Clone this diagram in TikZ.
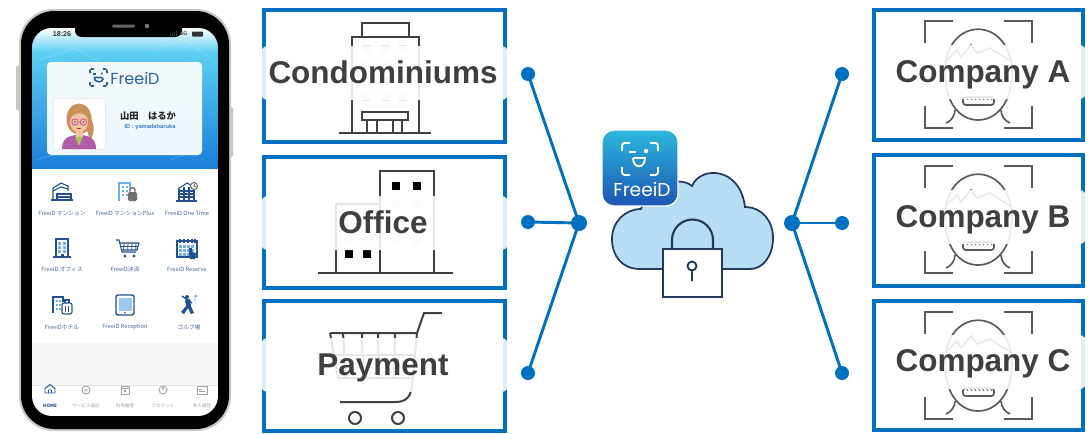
\documentclass[tikz,border=0pt]{standalone}
\usepackage{fontspec}
\setmainfont{Liberation Sans}
\newfontfamily\jpfont{Noto Sans CJK JP}
\newfontfamily\logofont{Poppins}
\usetikzlibrary{calc}

\definecolor{boxblue}{HTML}{0070C0}
\definecolor{textgray}{HTML}{3F3F3F}
\definecolor{icongray}{HTML}{404040}
\definecolor{facegray}{HTML}{5A5A5A}
\definecolor{winfill}{HTML}{E4E4E4}
\definecolor{cloudfill}{HTML}{B6DDF4}
\definecolor{cloudline}{HTML}{22395C}
\definecolor{apptop}{HTML}{2BB9DC}
\definecolor{appbot}{HTML}{1E55B3}
\definecolor{hdrtop}{HTML}{5CCFF3}
\definecolor{hdrbot}{HTML}{1B7ED9}
\definecolor{phonegray}{HTML}{C8C8C8}
\definecolor{appnavy}{HTML}{24508F}
\definecolor{applight}{HTML}{6FB0E8}
\definecolor{appgray}{HTML}{6E6E6E}
\definecolor{lbl}{HTML}{4A6892}
\definecolor{navgray}{HTML}{A5A5A5}
\definecolor{logoblue}{HTML}{2B5FA5}
\definecolor{idblue}{HTML}{3A7BD5}
\definecolor{hairbrown}{HTML}{C8915A}
\definecolor{skin}{HTML}{F2C6A0}
\definecolor{topurple}{HTML}{B15CA9}
\definecolor{shirtgreen}{HTML}{A6C94A}
\definecolor{glasspink}{HTML}{D9559B}

% corner brackets, head outline and mouth of the face-recognition mark
\newcommand\facemark[1]{%
\begin{scope}[shift={(0,#1)}]
  \draw[facestroke] (925,43) -- (925,21) -- (953,21);
  \draw[facestroke] (1004,21) -- (1032,21) -- (1032,43);
  \draw[facestroke] (925,106) -- (925,128) -- (953,128);
  \draw[facestroke] (1004,128) -- (1032,128) -- (1032,106);
  \draw[facestroke] (945,75) .. controls (943,14) and (1013,14) .. (1012,75)
        .. controls (1011,105) and (995,120) .. (978,120)
        .. controls (961,120) and (946,105) .. (945,75);
  \draw[facestroke] (955,110) .. controls (955,116) and (951,121) .. (946,123);
  \draw[facestroke] (1001,110) .. controls (1001,116) and (1005,121) .. (1010,123);
  \draw[facestroke] (945,62) -- (957,50) -- (961,57) -- (971,45) -- (977,53) -- (990,48) -- (1012,62);
  \draw[facestroke, rounded corners=2pt] (963,97) rectangle (994,105);
  \foreach \k in {966,970,...,990} \draw[facegray, line width=0.6pt] (\k,97) -- (\k+2,100);
\end{scope}}

\begin{document}
\begin{tikzpicture}[x=0.75pt,y=-0.75pt,
  panel/.style={draw=boxblue, line width=2.6pt, fill=white, inner sep=0},
  veil/.style={fill=white, fill opacity=0.88, rounded corners=5pt},
  tag/.style={font=\fontsize{23.6}{28}\selectfont\bfseries, text=textgray, inner sep=0, anchor=base},
  glyph/.style={draw=icongray, line width=1.5pt},
  facestroke/.style={draw=facegray, line width=1.25pt},
  dot/.style={circle, fill=boxblue, inner sep=0, minimum size=10.5pt},
  hub/.style={dot, minimum size=12pt},
  link/.style={draw=boxblue, line width=2.2pt},
  tiny/.style={font=\jpfont\fontsize{4.3}{5}\selectfont, text=lbl, inner sep=0},
  navtxt/.style={font=\jpfont\fontsize{3.4}{4}\selectfont, text=navgray, inner sep=0},
  ico/.style={line width=0.8pt},
]
\useasboundingbox (0,0) rectangle (1089,433);
\fill[white] (0,0) rectangle (1089,433);

% ================= phone =================
\fill[phonegray, rounded corners=1pt] (16,66) rectangle (21,110);
\fill[phonegray, rounded corners=1pt] (229,107) rectangle (233,157);
\fill[phonegray, rounded corners=26pt] (19,9) rectangle (231,431);
\fill[black, rounded corners=25pt] (21,11) rectangle (229,429);
\begin{scope}
  \clip[rounded corners=15pt] (32,28) rectangle (218,416);
  \fill[white] (32,28) rectangle (218,416);
  \fill[top color=white, bottom color=hdrtop] (32,28) rectangle (218,52);
  \fill[top color=hdrtop, bottom color=hdrbot] (32,52) rectangle (218,168);
  \foreach \a/\b/\c/\d in {40/60/75/48, 75/48/100/62, 150/50/185/40, 185/40/210/58, 36/160/70/150, 170/160/205/148}
    \draw[white, opacity=0.25, line width=0.4pt] (\a,\b) -- (\c,\d);
  \fill[black!3] (32,343) rectangle (218,385);
  \draw[black!10, line width=0.4pt] (32,385) -- (218,385);
\end{scope}
% notch, speaker and camera
\fill[black, rounded corners=5pt] (75,20) rectangle (182,37);
\fill[black!60, rounded corners=1pt] (112,24.5) rectangle (135,27.5);
\fill[black!55] (147,26) circle[radius=2.3];
% status bar
\node[font=\bfseries\fontsize{5.3}{6}\selectfont, text=black!80, inner sep=0] (clock) at (62,34) {18:26};
\foreach \h [count=\i] in {2,3,4,5} \fill[black!80] (168+\i*2,36) rectangle (169.3+\i*2,36-\h);
\node[font=\bfseries\fontsize{4}{5}\selectfont, text=black!70, inner sep=0] (net) at (184,34) {5G};
\fill[black!80, rounded corners=0.6pt] (192,31.5) rectangle (203,36.5);

% ID card
\fill[white, opacity=0.93, rounded corners=3pt] (47,62) rectangle (202,155);
\begin{scope}[logoblue, line width=1.2pt, rounded corners=1.2pt]
  \draw (90,73) -- (90,69) -- (94,69);  \draw (103,69) -- (107,69) -- (107,73);
  \draw (90,82) -- (90,86) -- (94,86);  \draw (103,86) -- (107,86) -- (107,82);
  \draw (93,74) -- (96,74); \fill (102,73.5) circle[radius=1.1];
  \draw (94,77.5) -- (103,77.5) .. controls (103,83) and (94,83) .. (94,77.5);
\end{scope}
\node[font=\logofont\fontsize{12}{14}\selectfont, text=logoblue, inner sep=0] (cardlogo) at (135,78) {FreeiD};
\fill[white] (53,98) rectangle (105,149);
\draw[black!8, line width=0.3pt] (53,98) rectangle (105,149);
% avatar
\fill[hairbrown] (79,119) ellipse[x radius=12.5, y radius=15.5];
\fill[hairbrown] (86,112) .. controls (96,122) and (95,134) .. (90,140) -- (86,127) -- cycle;
\fill[topurple] (62,149) .. controls (62,139) and (68,135) .. (79,135) .. controls (90,135) and (96,139) .. (96,149) -- cycle;
\fill[shirtgreen] (75,136) -- (83,136) -- (79,146) -- cycle;
\fill[skin] (75.5,127) rectangle (82.5,137);
\fill[skin] (79,122) ellipse[x radius=9, y radius=10.5];
\fill[hairbrown] (69.5,119) .. controls (69,105) and (89,105) .. (88.5,119) .. controls (85,112) and (75,111) .. (69.5,119) -- cycle;
\draw[glasspink, line width=0.7pt] (75,122) circle[radius=3.2] (83.5,122) circle[radius=3.2] (78.2,122) -- (80.3,122);
\fill[black!70] (75,122) circle[radius=0.8] (83.5,122) circle[radius=0.8];
\draw[red!60!black, line width=0.4pt] (77,128) .. controls (78,129) and (80,129) .. (81,128);
\node[font=\jpfont\bfseries\fontsize{7}{8}\selectfont, text=black!85, inner sep=0] (uname) at (148,116) {山田　はるか};
\node[font=\bfseries\fontsize{4.3}{5}\selectfont, text=idblue, inner sep=0] (uid) at (150,127) {ID : yamadaharuka};

% service icons, row 1
\begin{scope}[shift={(62,192)}, ico, appnavy]
  \draw (-9,8) -- (-9,-4) -- (-1,-9) -- (6,-6) -- (6,-1);
  \draw (-9,-1) -- (-1,-5) -- (6,-3);
  \draw (-5,8) -- (-5,2) -- (9,2) -- (9,8) (-5,5) -- (9,5) (-11,8) -- (11,8);
\end{scope}
\begin{scope}[shift={(128,192)}, ico]
  \draw[applight] (-9,9) -- (-9,-9) -- (2,-9) -- (2,-2);
  \foreach \u in {-6,-2} \foreach \v in {-6,-2,2} \fill[applight] (\u,\v) rectangle (\u+2,\v+2);
  \fill[appgray, rounded corners=1pt] (0,0) rectangle (9,9);
  \draw[appgray, line width=1pt] (2,0) -- (2,-2) arc[start angle=180, end angle=360, radius=2.5] -- (7,0);
\end{scope}
\begin{scope}[shift={(187,192)}, ico, appnavy]
  \draw (-9,-3) -- (0,-9) -- (7,-5);
  \draw (-8,9) -- (-8,-3) (7,9) -- (7,-3) (-11,9) -- (10,9);
  \foreach \v in {-1,2,5} \draw (-8,\v) -- (7,\v);
  \draw (-3,-5) -- (-3,9) (2,-5) -- (2,9);
  \fill[white] (7,-6) circle[radius=4]; \draw[appgray] (7,-6) circle[radius=3.5];
  \draw[appgray, line width=0.5pt] (7,-8) -- (7,-6) -- (9,-6);
\end{scope}
% service icons, row 2
\begin{scope}[shift={(62,248)}, ico, appnavy]
  \draw (-6,9) -- (-6,-9) -- (6,-9) -- (6,9) (-9,9) -- (9,9);
  \foreach \u in {-4,1} \foreach \v in {-6,-2,2} \fill[applight] (\u,\v) rectangle (\u+3,\v+2.5);
  \fill (-1.5,5.5) rectangle (1.5,9);
\end{scope}
\begin{scope}[shift={(128,248)}, ico, appnavy]
  \draw (-12,-8) -- (-9,-8) -- (-6,4) -- (8,4);
  \draw (-8.5,-5) -- (11,-5) -- (9,2) -- (-6.5,2);
  \foreach \u in {-4,0,4,8} \draw[line width=0.6pt] (\u,-5) -- (\u-0.3,2);
  \draw (-8,-1.5) -- (10,-1.5);
  \fill (-3,8) circle[radius=1.6] (6,8) circle[radius=1.6];
\end{scope}
\begin{scope}[shift={(187,248)}, ico, appnavy]
  \draw (-10,-7) rectangle (10,9);
  \foreach \u in {-7,-3,1,5,8} \draw (\u,-9) -- (\u,-5);
  \foreach \u in {-8,-4,0,4} \foreach \v in {-3,1,5} \fill[applight] (\u,\v) rectangle (\u+3,\v+2.5);
  \fill (2,0) -- (5,0) -- (5,4) -- (9,5) -- (8,11) -- (3,11) -- (2,6) -- cycle;
\end{scope}
% service icons, row 3
\begin{scope}[shift={(62,305)}, ico, appnavy]
  \draw (-9,8) -- (-9,-8) -- (1,-8) -- (1,-3);
  \foreach \u in {-6,-3} \foreach \v in {-5,-1,3} \fill[applight] (\u,\v) rectangle (\u+2,\v+2);
  \draw[rounded corners=1.5pt] (0,-2) rectangle (10,9);
  \draw (3,-2) -- (3,-5) -- (7,-5) -- (7,-2) (3.5,1) -- (3.5,7) (6.5,1) -- (6.5,7);
\end{scope}
\begin{scope}[shift={(125,305)}, ico, appnavy]
  \draw[line width=1.1pt, rounded corners=1.5pt] (-9,-10) rectangle (9,10);
  \fill[applight!70] (-6.5,-7.5) rectangle (6.5,5.5);
  \fill (0,7.8) circle[radius=0.9];
\end{scope}
\begin{scope}[shift={(188,305)}, ico, appnavy]
  \fill (-1,-8) circle[radius=2];
  \fill (-3,-5) -- (2,-6) -- (3,1) -- (6,8) -- (3,9) -- (0,3) -- (-4,9) -- (-7,7) -- (-2,1) -- cycle;
  \draw[line width=1pt] (-6,-9) -- (4,-2);
  \draw[applight, line width=0.5pt] (7,-10) -- (7,-3) (7,-10) -- (9,-9) -- (7,-8);
\end{scope}
% service captions
\node[tiny] (s1) at (62,213) {FreeiD マンション};
\node[tiny] (s2) at (125,213) {FreeiD マンションPlus};
\node[tiny] (s3) at (187,213) {FreeiD One Time};
\node[tiny] (s4) at (62,269) {FreeiD オフィス};
\node[tiny] (s5) at (125,269) {FreeiD決済};
\node[tiny] (s6) at (187,269) {FreeiD Reserve};
\node[tiny] (s7) at (62,327) {FreeiDホテル};
\node[tiny] (s8) at (125,327) {FreeiD Reception};
\node[tiny] (s9) at (189,327) {ゴルフ場};
% bottom navigation
\begin{scope}[ico, line width=0.7pt]
  \draw[appnavy, line join=round] (45,393) -- (45,388.5) -- (50,384.5) -- (55,388.5) -- (55,393) -- cycle (48.5,393) -- (48.5,390) -- (51.5,390) -- (51.5,393);
  \draw[navgray] (86,390) circle[radius=4] (84,390) -- (88,390) (86,388) -- (86,392);
  \draw[navgray] (121,386) rectangle (129,394) (121,388) -- (129,388);
  \fill[navgray] (124,390) rectangle (126,392);
  \draw[navgray] (163,390) circle[radius=4];
  \fill[navgray] (163,388.5) circle[radius=1.3];
  \draw[navgray] (197,386) rectangle (207,394) (199,389) -- (202,389) (199,391) -- (205,391);
\end{scope}
\node[font=\jpfont\bfseries\fontsize{3.4}{4}\selectfont, text=appnavy, inner sep=0] (home) at (50,406) {HOME};
\node[navtxt] (nav2) at (86,406) {サービス追加};
\node[navtxt] (nav3) at (125,406) {利用履歴};
\node[navtxt] (nav4) at (163,406) {アカウント};
\node[navtxt] (nav5) at (202,406) {本人確認};

% ================= left panels =================
\node[panel, minimum width=180.75pt, minimum height=99pt] (condo) at (384.5,76) {};
\node[panel, minimum width=180.75pt, minimum height=98.25pt] (office) at (384.5,222.5) {};
\node[panel, minimum width=180.75pt, minimum height=97.5pt] (pay) at (384.5,366) {};

% apartment block
\foreach \u in {367,385,403} \foreach \v in {49,65,81,97} \fill[winfill] (\u-4,\v-4) rectangle (\u+4,\v+4);
\draw[glyph] (362,37) rectangle (409,23);
\draw[glyph] (352,41) -- (352,37) -- (419,37) -- (419,41);
\draw[glyph] (352,41) -- (352,133) (419,41) -- (419,133);
\draw[glyph] (339,133) -- (431,133);
\draw[glyph] (362,112) rectangle (408,120);
\draw[glyph] (367,120) -- (367,133) (377,120) -- (377,133) (393,120) -- (393,133) (402,120) -- (402,133);

% office towers
\foreach \u/\v in {396/204,417/204,396/222,417/222,396/240,417/240,349/238,367/238,349/220,367/220}
  \fill[winfill] (\u-4,\v-4) rectangle (\u+4,\v+4);
\draw[glyph] (380,273) -- (380,171) -- (434,171) -- (434,273);
\draw[glyph] (336,273) -- (336,204) -- (380,204);
\draw[glyph] (318,273) -- (453,273);
\foreach \u/\v in {396/186,417/186,349/254,367/254} \fill[black] (\u-4,\v-4) rectangle (\u+4,\v+4);

% shopping cart
\draw[glyph] (442,313) -- (424,313) -- (417,333);
\draw[glyph] (330,333) -- (417,333) -- (412,385) .. controls (411,398) and (405,402) .. (395,402) -- (340,402);
\draw[glyph] (330,333) -- (338,378) -- (410,378);
\draw[glyph] (343,333) -- (346,378) (362,333) -- (363,378) (378,333) -- (379,378) (395,333) -- (394,378) (333,355) -- (414,355);
\draw[glyph] (355,418) circle[radius=6] (398,418) circle[radius=6];

% translucent strips behind the captions
\fill[veil] (261,46) rectangle (508,100);
\fill[veil] (261,196) rectangle (508,250);
\fill[veil] (261,338) rectangle (508,392);
\node[tag] (tcondo) at (383,83) {Condominiums};
\node[tag] (toffice) at (383,233) {Office};
\node[tag] (tpay) at (383,375) {Payment};

% ================= right panels =================
\node[panel, minimum width=156.75pt, minimum height=97.5pt] (ca) at (978.5,75) {};
\node[panel, minimum width=156.75pt, minimum height=98.25pt] (cb) at (978.5,220.5) {};
\node[panel, minimum width=156.75pt, minimum height=96.75pt] (cc) at (978.5,365.5) {};
\facemark{0}
\facemark{145}
\facemark{291}
\fill[veil] (878,45) rectangle (1086,99);
\fill[veil] (878,190) rectangle (1086,244);
\fill[veil] (878,335) rectangle (1086,389);
\node[tag] (tca) at (983,82) {Company A};
\node[tag] (tcb) at (983,227) {Company B};
\node[tag] (tcc) at (983,371) {Company C};

% ================= cloud with lock =================
\draw[fill=cloudfill, draw=cloudline, line width=1.3pt]
  (640,269) .. controls (622,269) and (612,256) .. (612,239)
  .. controls (612,222) and (625,209) .. (641,209)
  .. controls (646,188) and (678,174) .. (692,186)
  .. controls (700,166) and (740,166) .. (745,207)
  .. controls (762,207) and (773,221) .. (773,238)
  .. controls (773,256) and (763,269) .. (750,269) -- cycle;
\draw[cloudline, line width=1.6pt] (672,249) -- (672,240) arc[start angle=180, end angle=360, radius=20.5] -- (713,249);
\draw[fill=white, draw=cloudline, line width=1.6pt] (663,249) rectangle (722,297);
\draw[cloudline, line width=1.4pt] (692,266) circle[radius=4.5] (692,270.5) -- (692,281);

% app tile
\node[draw=white, line width=1pt, rounded corners=9pt, minimum size=57pt, inner sep=0,
      top color=apptop, bottom color=appbot] (app) at (640,168) {};
\begin{scope}[white, line width=1.4pt, rounded corners=2pt]
  \draw (622,151) -- (622,143) -- (630,143);  \draw (650,143) -- (658,143) -- (658,151);
  \draw (622,167) -- (622,175) -- (630,175);  \draw (650,175) -- (658,175) -- (658,167);
  \draw[rounded corners=0pt] (629,152) -- (636,152);
  \fill (646,151) circle[radius=2.2];
  \draw[rounded corners=0pt] (633,158) -- (645,158) .. controls (645,169) and (633,169) .. (633,158);
\end{scope}
\node[font=\logofont\fontsize{14}{16}\selectfont, text=white, inner sep=0] (appname) at (642,189) {FreeiD};

% ================= connectors =================
\node[dot] (l1) at (528,74) {};
\node[dot] (l2) at (528,222) {};
\node[dot] (l3) at (528,373) {};
\node[hub] (lh) at (579,223) {};
\node[hub] (rh) at (792,223) {};
\node[dot] (r1) at (842,74) {};
\node[dot] (r2) at (842,223) {};
\node[dot] (r3) at (842,373) {};
\draw[link] (l1.center) -- (lh.center);
\draw[link] (l2.center) -- (lh.center);
\draw[link] (l3.center) -- (lh.center);
\draw[link] (rh.center) -- (r1.center);
\draw[link] (rh.center) -- (r2.center);
\draw[link] (rh.center) -- (r3.center);
\end{tikzpicture}
\end{document}
